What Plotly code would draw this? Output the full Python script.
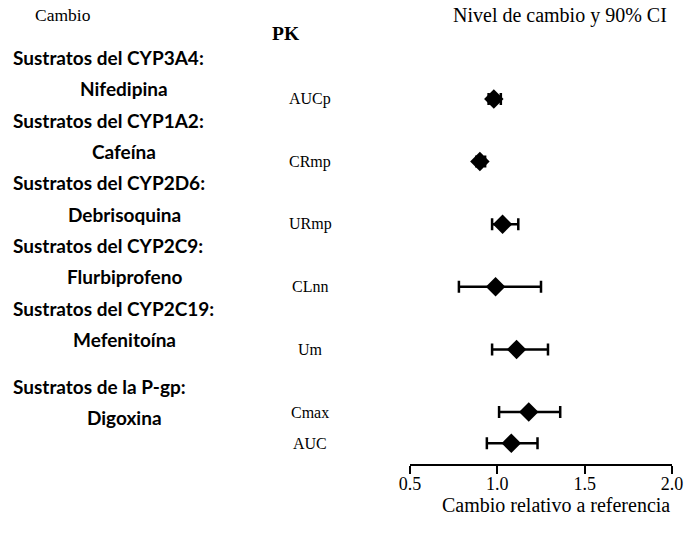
import plotly.graph_objects as go

# ---------------- data ----------------
groups = ["Sustratos del CYP3A4:", "Sustratos del CYP1A2:", "Sustratos del CYP2D6:",
          "Sustratos del CYP2C9:", "Sustratos del CYP2C19:", "Sustratos de la P-gp:"]
drugs = ["Nifedipina", "Cafeína", "Debrisoquina", "Flurbiprofeno", "Mefenitoína", "Digoxina"]
pk_drug_index = [0, 1, 2, 3, 4, 5, 5]
pk_labels = ["AUCp", "CRmp", "URmp", "CLnn", "Um", "Cmax", "AUC"]
ratio = [0.98, 0.90, 1.03, 0.99, 1.11, 1.18, 1.08]
ci_low = [0.95, 0.88, 0.97, 0.78, 0.97, 1.01, 0.94]
ci_high = [1.02, 0.93, 1.12, 1.25, 1.29, 1.36, 1.23]
x_ticks = [0.5, 1.0, 1.5, 2.0]
x_tick_text = ["0.5", "1.0", "1.5", "2.0"]

# ---------------- layout helpers ----------------
W, H = 687, 536
PLOT_BOTTOM = 464
ROW0_PX, ROW_PX = 99, 62.6

def px_to_row(px):
    return (px - ROW0_PX) / ROW_PX

# row position of each PK entry: next drug -> next row, repeated drug -> half row
rows = []
for i, d in enumerate(pk_drug_index):
    if i > 0 and pk_drug_index[i - 1] == d:
        rows.append(rows[-1] + 0.5)
    else:
        rows.append(float(d))

drug_rows = []
for d in range(len(drugs)):
    r = [rows[i] for i in range(len(rows)) if pk_drug_index[i] == d]
    drug_rows.append(sum(r) / len(r))

SERIF = "Liberation Serif, Times New Roman, serif"
SANS = "Lato, Open Sans, sans-serif"

fig = go.Figure()
fig.add_trace(go.Scatter(
    x=ratio, y=rows, mode="markers",
    marker=dict(symbol="diamond", size=15, color="black"),
    error_x=dict(type="data", symmetric=False,
                 array=[h - r for h, r in zip(ci_high, ratio)],
                 arrayminus=[r - l for r, l in zip(ratio, ci_low)],
                 color="black", thickness=2.5, width=6),
    showlegend=False, hoverinfo="skip",
))

ann = []
for g, r in zip(groups, drug_rows):
    ann.append(dict(text=g, x=11 / W, xref="paper", xanchor="left", y=r - 0.66, yref="y",
                    showarrow=False, font=dict(family=SANS, size=19, color="black", weight="bold")))
for d, r in zip(drugs, drug_rows):
    ann.append(dict(text=d, x=124 / W, xref="paper", xanchor="center", y=r - 0.16, yref="y",
                    showarrow=False, font=dict(family=SANS, size=19, color="black", weight="bold")))
for p, r in zip(pk_labels, rows):
    ann.append(dict(text=p, x=310 / W, xref="paper", xanchor="center", y=r, yref="y",
                    showarrow=False, font=dict(family=SERIF, size=16, color="black")))

ann.append(dict(text="Cambio", x=63 / W, xref="paper", xanchor="center", y=px_to_row(15), yref="y",
                showarrow=False, font=dict(family=SERIF, size=17.5, color="black")))
ann.append(dict(text="PK", x=286 / W, xref="paper", xanchor="center", y=px_to_row(33), yref="y",
                showarrow=False, font=dict(family=SERIF, size=19.5, color="black", weight="bold")))
ann.append(dict(text="Nivel de cambio y 90% CI", x=560 / W, xref="paper", xanchor="center",
                y=px_to_row(15), yref="y",
                showarrow=False, font=dict(family=SERIF, size=20, color="black")))
ann.append(dict(text="Cambio relativo a referencia", x=556 / W, xref="paper", xanchor="center",
                y=1 - 505 / PLOT_BOTTOM, yref="paper", yanchor="middle",
                showarrow=False, font=dict(family=SERIF, size=20, color="black")))

fig.update_layout(
    width=W, height=H,
    margin=dict(l=0, r=0, t=0, b=H - PLOT_BOTTOM, pad=0, autoexpand=False),
    paper_bgcolor="white", plot_bgcolor="white",
    xaxis=dict(domain=[410 / W, 672 / W], range=[0.5, 2.0], tickvals=x_ticks, ticktext=x_tick_text,
               showline=True, linecolor="black", linewidth=2, ticks="outside", ticklen=8,
               tickwidth=2, tickcolor="black", showgrid=False, zeroline=False,
               ticklabelstandoff=-6, automargin=False,
               tickfont=dict(family=SERIF, size=18, color="black")),
    yaxis=dict(range=[px_to_row(PLOT_BOTTOM), px_to_row(0)], visible=False,
               showgrid=False, zeroline=False, automargin=False),
    annotations=ann,
)

fig.write_html("out.html")
